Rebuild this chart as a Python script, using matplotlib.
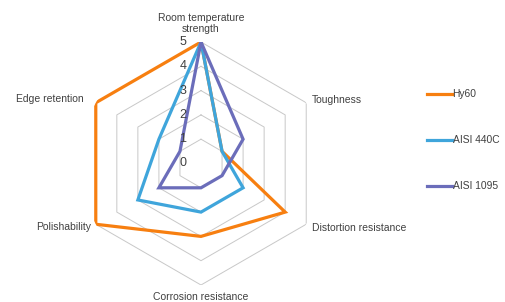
import numpy as np
import matplotlib.pyplot as plt

categories = ['Room temperature\nstrength', 'Toughness', 'Distortion resistance',
              'Corrosion resistance', 'Polishability', 'Edge retention']
series_names = ['Hy60', 'AISI 440C', 'AISI 1095']
hy60 = [5, 1, 4, 3, 5, 5]
aisi_440c = [5, 1, 2, 2, 3, 2]
aisi_1095 = [5, 2, 1, 1, 2, 1]
ticks = [0, 1, 2, 3, 4, 5]

colors = ['#F77F10', '#3FA5DB', '#6B6DBA']

plt.rcParams['font.family'] = ['Liberation Sans', 'DejaVu Sans']

fig = plt.figure(figsize=(5.05, 3.02), dpi=100)
cx, cy, r = 201 / 505, 1 - 163.5 / 302, 121.5
ax = fig.add_axes([cx - r / 505, cy - r / 302, 2 * r / 505, 2 * r / 302], projection='polar')
ax.set_theta_offset(np.pi / 2)
ax.set_theta_direction(-1)
ax.set_ylim(0, 5)
ax.axis('off')

n = len(categories)
theta = np.arange(n) * 2 * np.pi / n
closed = np.append(theta, theta[0])

# hexagonal grid
for t in ticks[1:]:
    ax.plot(closed, [t] * (n + 1), color='#C8C8C8', lw=0.7, zorder=1)

for vals, name, c in zip([hy60, aisi_440c, aisi_1095], series_names, colors):
    ax.plot(closed, vals + vals[:1], color=c, lw=2.3, label=name, zorder=3,
            solid_joinstyle='miter')

# value labels
for t in ticks:
    ax.annotate(str(t), xy=(0, t), xytext=(-13, 0), textcoords='offset points',
                ha='center', va='center', fontsize=9, color='#404040', zorder=4)

# category labels
offsets = [((0, 6), 'center', 'bottom'), ((4, 2), 'left', 'center'),
           ((4, -3), 'left', 'center'), ((0, -5), 'center', 'top'),
           ((-3, -2), 'right', 'center'), ((-9, 3), 'right', 'center')]
for t, lab, (off, ha, va) in zip(theta, categories, offsets):
    ax.annotate(lab, xy=(t, 5), xytext=off, textcoords='offset points',
                ha=ha, va=va, fontsize=7.5, color='#404040', linespacing=1.05,
                annotation_clip=False)

fig.legend(loc='upper left', bbox_to_anchor=(0.827, 0.735), frameon=False,
           fontsize=7.4, labelspacing=3.5, handlelength=2.4, handletextpad=0.1,
           labelcolor='#404040')

fig.savefig('out.png', dpi=100)
